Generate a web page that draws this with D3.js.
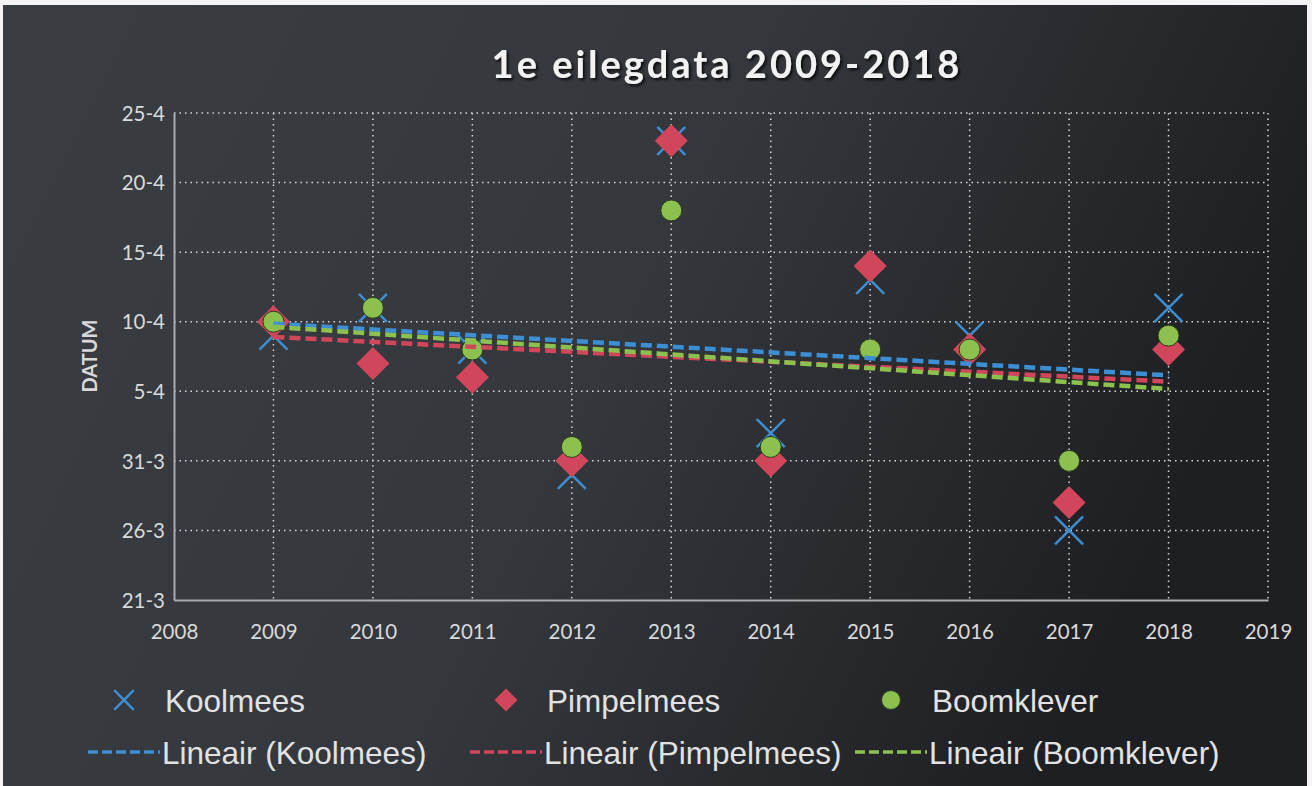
<!DOCTYPE html>
<html>
<head>
<meta charset="utf-8">
<script src="https://cdn.jsdelivr.net/npm/d3@7"></script>
<style>
  html, body { margin: 0; padding: 0; background: #f4f4f4; }
  svg { display: block; }
</style>
</head>
<body>
<div id="chart"></div>
<script>
// years on the x axis
const years = [2009, 2010, 2011, 2012, 2013, 2014, 2015, 2016, 2017, 2018];
// first egg-laying dates (day-month) per species
const koolmees    = ['9-4', '11-4', '8-4', '30-3', '23-4', '2-4', '13-4', '9-4', '26-3', '11-4'];
const pimpelmees  = ['10-4', '7-4', '6-4', '31-3', '23-4', '31-3', '14-4', '8-4', '28-3', '8-4'];
const boomklever  = ['10-4', '11-4', '8-4', '1-4', '18-4', '1-4', '8-4', '8-4', '31-3', '9-4'];
// axis ticks
const yTicks = ['21-3', '26-3', '31-3', '5-4', '10-4', '15-4', '20-4', '25-4'];
const xTicks = [2008, 2009, 2010, 2011, 2012, 2013, 2014, 2015, 2016, 2017, 2018, 2019];

const W = 1312, H = 786;
const margin = { top: 113, right: 44, bottom: 186, left: 174 };
const width = W - margin.left - margin.right;
const height = H - margin.top - margin.bottom;

const parseDM = d3.timeParse('%d-%m');

const svg = d3.select('#chart')
  .append('svg')
  .attr('width', W)
  .attr('height', H);

// background gradient (photo of a dark Excel chart)
const defs = svg.append('defs');
const grad = defs.append('linearGradient')
  .attr('id', 'bg')
  .attr('x1', '0%').attr('y1', '0%')
  .attr('x2', '100%').attr('y2', '30%');
grad.append('stop').attr('offset', '0%').attr('stop-color', '#3a3d42');
grad.append('stop').attr('offset', '55%').attr('stop-color', '#34373c');
grad.append('stop').attr('offset', '100%').attr('stop-color', '#1e1f22');

const shadow = defs.append('filter').attr('id', 'shadow');
shadow.append('feDropShadow')
  .attr('dx', 2).attr('dy', 2).attr('stdDeviation', 1.5)
  .attr('flood-color', '#000').attr('flood-opacity', 0.8);

svg.append('rect')
  .attr('x', 3).attr('y', 5)
  .attr('width', W - 8).attr('height', H - 5)
  .attr('fill', 'url(#bg)');

// title
svg.append('text')
  .attr('x', 727)
  .attr('y', 78)
  .attr('text-anchor', 'middle')
  .attr('fill', '#f2f2f2')
  .attr('filter', 'url(#shadow)')
  .style('font-family', 'Lato, "Open Sans", sans-serif')
  .style('font-weight', 'bold')
  .style('font-size', '38px')
  .style('letter-spacing', '3px')
  .text('1e eilegdata 2009-2018');

const g = svg.append('g')
  .attr('transform', `translate(${margin.left},${margin.top})`);

const x = d3.scaleLinear()
  .domain([2008, 2019])
  .range([0, width]);

const y = d3.scaleTime()
  .domain([parseDM('21-3'), parseDM('25-4')])
  .range([height, 0]);

// gridlines
g.append('g')
  .attr('class', 'grid')
  .selectAll('line.h')
  .data(yTicks.slice(1))
  .join('line')
  .attr('x1', 0).attr('x2', width)
  .attr('y1', d => y(parseDM(d))).attr('y2', d => y(parseDM(d)))
  .attr('stroke', '#d8d8d8')
  .attr('stroke-width', 1.5)
  .attr('stroke-dasharray', '1.5 4');

g.append('g')
  .attr('class', 'grid')
  .selectAll('line.v')
  .data(xTicks.slice(1))
  .join('line')
  .attr('x1', d => x(d)).attr('x2', d => x(d))
  .attr('y1', 0).attr('y2', height)
  .attr('stroke', '#d8d8d8')
  .attr('stroke-width', 1.5)
  .attr('stroke-dasharray', '1.5 4');

// axes
const xAxis = d3.axisBottom(x)
  .tickValues(xTicks)
  .tickFormat(d3.format('d'))
  .tickSize(0)
  .tickPadding(24);

const yAxis = d3.axisLeft(y)
  .tickValues(yTicks.map(parseDM))
  .tickFormat(d => d.getDate() + '-' + (d.getMonth() + 1))
  .tickSize(0)
  .tickPadding(9);

g.append('g')
  .attr('class', 'xAxis')
  .attr('transform', `translate(0,${height})`)
  .call(xAxis);

g.append('g')
  .attr('class', 'yAxis')
  .call(yAxis);

g.selectAll('.domain')
  .attr('stroke', '#a9abae')
  .attr('stroke-width', 2);

g.selectAll('.tick text')
  .attr('fill', '#d9d9d9')
  .style('font-family', 'Lato, "Open Sans", sans-serif')
  .style('font-size', '20.5px');

g.selectAll('.yAxis .tick text').attr('dy', '0.35em');

// y label
svg.append('text')
  .attr('transform', 'rotate(-90)')
  .attr('x', -356)
  .attr('y', 97)
  .attr('text-anchor', 'middle')
  .attr('fill', '#d9d9d9')
  .style('font-family', 'Lato, "Open Sans", sans-serif')
  .style('font-weight', 'bold')
  .style('font-size', '20px')
  .text('DATUM');

const blue = '#3d8ed2', red = '#d2465b', green = '#8cc04f';

const series = [
  { name: 'Koolmees', values: koolmees, color: blue, symbol: 'x' },
  { name: 'Pimpelmees', values: pimpelmees, color: red, symbol: 'diamond' },
  { name: 'Boomklever', values: boomklever, color: green, symbol: 'circle' }
];

function drawMarker(sel, s, scale) {
  scale = scale || 1;
  if (s.symbol === 'x') {
    const r = 14 * scale;
    sel.append('path')
      .attr('d', `M${-r},${-r}L${r},${r}M${-r},${r}L${r},${-r}`)
      .attr('stroke', s.color)
      .attr('stroke-width', 2.5)
      .attr('fill', 'none');
  } else if (s.symbol === 'diamond') {
    const r = 16.5 * scale;
    sel.append('path')
      .attr('d', `M0,${-r}L${r},0L0,${r}L${-r},0Z`)
      .attr('fill', s.color);
  } else {
    sel.append('circle')
      .attr('r', 10.5 * scale)
      .attr('fill', s.color)
      .attr('stroke', '#2a3a1c')
      .attr('stroke-width', 1);
  }
}

// markers
series.forEach(s => {
  g.append('g')
    .selectAll('g')
    .data(s.values.map((v, i) => ({ year: years[i], date: parseDM(v) })))
    .join('g')
    .attr('transform', d => `translate(${x(d.year)},${y(d.date)})`)
    .each(function () { drawMarker(d3.select(this), s); });
});

// linear trendlines (least squares on the dates)
series.forEach(s => {
  const pts = s.values.map((v, i) => [years[i], +parseDM(v)]);
  const mx = d3.mean(pts, p => p[0]);
  const my = d3.mean(pts, p => p[1]);
  const slope = d3.sum(pts, p => (p[0] - mx) * (p[1] - my)) / d3.sum(pts, p => (p[0] - mx) ** 2);
  const ends = [years[0], years[years.length - 1]].map(yr => ({ year: yr, t: my + slope * (yr - mx) }));
  g.append('path')
    .datum(ends)
    .attr('d', d3.line().x(d => x(d.year)).y(d => y(new Date(d.t))))
    .attr('fill', 'none')
    .attr('stroke', s.color)
    .attr('stroke-width', 4.5)
    .attr('stroke-dasharray', '11 5');
});

// legend
const legend = svg.append('g')
  .style('font-family', '"Liberation Sans", Arial, sans-serif')
  .style('font-size', '31.5px')
  .attr('fill', '#e2e2e2');

const legendX = [88, 470, 855];
const legendScale = { x: 0.7, diamond: 0.7, circle: 0.9 };
series.forEach((s, i) => {
  const m = legend.append('g')
    .attr('transform', `translate(${legendX[i] + 36},700)`);
  drawMarker(m, s, legendScale[s.symbol]);
  legend.append('text')
    .attr('x', legendX[i] + 77)
    .attr('y', 712)
    .text(s.name);

  legend.append('line')
    .attr('x1', legendX[i]).attr('x2', legendX[i] + 72)
    .attr('y1', 752).attr('y2', 752)
    .attr('stroke', s.color)
    .attr('stroke-width', 3.5)
    .attr('stroke-dasharray', '10 4');
  legend.append('text')
    .attr('x', legendX[i] + 74)
    .attr('y', 764)
    .text('Lineair (' + s.name + ')');
});
</script>
</body>
</html>
